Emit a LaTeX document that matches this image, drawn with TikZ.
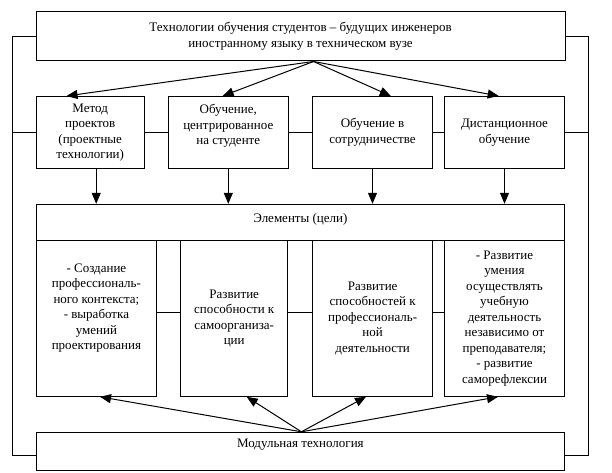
\documentclass[tikz,border=0pt]{standalone}
\usepackage{fontspec}
\setmainfont{Liberation Serif}
\usetikzlibrary{arrows.meta,calc}

\begin{document}
\begin{tikzpicture}[x=1pt,y=-1pt,line width=1pt,
    box/.style={draw,fill=white,inner sep=0pt,align=center,
      font=\fontsize{13}{15.5}\selectfont},
    arr/.style={-{Triangle[length=11pt,width=9pt]}}]
\useasboundingbox (0,0) rectangle (612,473);
% boxes
\node[box,minimum width=529pt,minimum height=49pt] (top) at (300.5,36.5)
  {Технологии обучения студентов – будущих инженеров\\иностранному языку в техническом вузе};
\node[box,minimum width=108.3pt,minimum height=71.8pt] (m1) at (90.2,132.4)
  {Метод\\проектов\\(проектные\\технологии)};
\node[box,minimum width=120pt,minimum height=71.8pt] (m2) at (228.3,132.4)
  {Обучение,\\центрированное\\на студенте\\\mbox{}};
\node[box,minimum width=120.4pt,minimum height=71.8pt] (m3) at (372.5,132.4)
  {Обучение в\\сотрудничестве};
\node[box,minimum width=120.4pt,minimum height=71.8pt] (m4) at (504.5,132.4)
  {Дистанционное\\обучение};
\node[box,minimum width=528.7pt,minimum height=36.2pt] (el) at (300.4,222.4)
  {Элементы (цели)\\[-6pt]\mbox{}};
\node[box,minimum width=120.7pt,minimum height=155.8pt] (g1) at (96.4,318.4)
  {- Создание\\профессиональ-\\ного контекста;\\- выработка\\умений\\проектирования\\[8pt]\mbox{}};
\node[box,minimum width=107pt,minimum height=155.8pt] (g2) at (234.2,318.4)
  {Развитие\\способности к\\самоорганиза-\\ции};
\node[box,minimum width=120pt,minimum height=155.8pt] (g3) at (372.7,318.4)
  {Развитие\\способностей к\\профессиональ-\\ной\\деятельности};
\node[box,minimum width=120.4pt,minimum height=155.8pt] (g4) at (504.5,318.4)
  {- Развитие\\умения\\осуществлять\\учебную\\деятельность\\независимо от\\преподавателя;\\- развитие\\саморефлексии};
\node[box,minimum width=528.7pt,minimum height=38pt] (mod) at (300.4,451.3)
  {Модульная технология\\\mbox{}};
% outer frame
\coordinate (lb) at (12.3,455.7);
\coordinate (rb) at (588,455.7);
\draw (top.west) -| (lb) -- (lb -| mod.west);
\draw (top.east) -| (rb) -- (rb -| mod.east);
\draw (m1.west) -- (lb |- m1.west);
\draw (m1.east) -- (m2.west);
\draw (m2.east) -- (m3.west);
\draw (m3.east) -- (m4.west);
\draw (m4.east) -- (rb |- m4.east);
\draw ([yshift=6pt]g1.east) -- ([yshift=6pt]g2.west);
\draw ([yshift=6pt]g2.east) -- ([yshift=6pt]g3.west);
\draw ([yshift=6pt]g3.east) -- ([yshift=6pt]g4.west);
% arrows
\coordinate (ts) at ([xshift=13pt]top.south);
\draw[arr] (ts) -- ($(m1.north west)!.283!(m1.north east)$);
\draw[arr] (ts) -- ($(m2.north west)!.453!(m2.north east)$);
\draw[arr] (ts) -- ($(m3.north west)!.651!(m3.north east)$);
\draw[arr] (ts) -- ($(m4.north west)!.452!(m4.north east)$);
\draw[arr] ([xshift=6pt]m1.south) -- ([xshift=6pt]m1.south |- el.north);
\draw[arr] (m2.south) -- (m2.south |- el.north);
\draw[arr] (m3.south) -- (m3.south |- el.north);
\draw[arr] (m4.south) -- (m4.south |- el.north);
\coordinate (ms) at ([xshift=1pt]mod.north);
\draw[arr] (ms) -- ([xshift=3.6pt]g1.south);
\draw[arr] (ms) -- ([xshift=12.5pt]g2.south);
\draw[arr] (ms) -- ([xshift=-6.7pt]g3.south);
\draw[arr] (ms) -- ([xshift=-6.5pt]g4.south);
\end{tikzpicture}
\end{document}
